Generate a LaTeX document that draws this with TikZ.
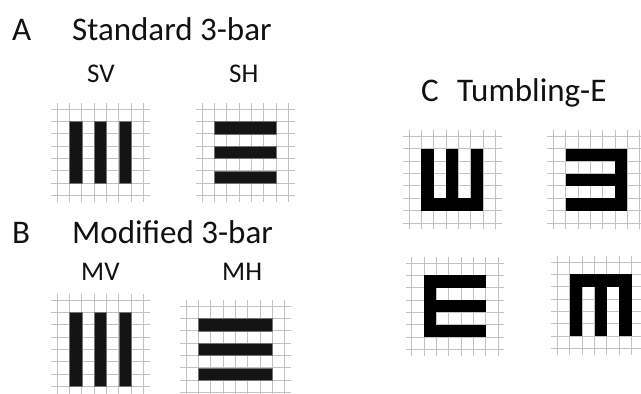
\documentclass[tikz,border=0pt]{standalone}
\usepackage{fontspec}
\setmainfont{Carlito}
\definecolor{txt}{HTML}{111111}
\definecolor{gline}{HTML}{C2C2C2}
\tikzset{
  gridline/.style={draw=gline, line width=0.9pt},
  barfill/.style={fill=black!92, draw=black!55, line width=0.3pt},
  efill/.style={fill=black},
  head/.style={anchor=base west, text=txt, inner sep=0pt, font=\fontsize{33}{39}\selectfont},
  sub/.style={anchor=base west, text=txt, inner sep=0pt, font=\fontsize{27}{32}\selectfont},
  pics/eyegrid/.style 2 args={code={
    \foreach \i in {0,...,#1} \draw[gridline] (\i,-0.5) -- (\i,#2+0.5);
    \foreach \j in {0,...,#2} \draw[gridline] (-0.5,\j) -- (#1+0.5,\j);
  }},
}
\begin{document}
\begin{tikzpicture}[x=1pt,y=-1pt]
\useasboundingbox (0,0) rectangle (641,394);
\fill[white] (0,0) rectangle (641,394);

% Titles
\node[head] (lA) at (12,40) {A};
\node[head] (tA) at (72,40) {Standard 3-bar};
\node[sub] (sv) at (87,82) {SV};
\node[sub] (sh) at (229,82) {SH};
\node[head] (lB) at (12,243) {B};
\node[head] (tB) at (72,243) {Modified 3-bar};
\node[sub] (mv) at (81,280) {MV};
\node[sub] (mh) at (222,280) {MH};
\node[head] (lC) at (421,101) {C};
\node[head] (tC) at (457,101) {Tumbling-E};

% SV
\begin{scope}[shift={(57,109)}, x=12.35pt, y=-12.35pt]
  \pic {eyegrid={7}{7}};
  \foreach \k in {1,3,5} \path[barfill] (\k,1) rectangle (\k+1,6);
\end{scope}
% SH
\begin{scope}[shift={(202,109)}, x=12.35pt, y=-12.35pt]
  \pic {eyegrid={7}{7}};
  \foreach \k in {1,3,5} \path[barfill] (1,\k) rectangle (6,\k+1);
\end{scope}
% MV
\begin{scope}[shift={(57,300)}, x=12.35pt, y=-12.35pt]
  \pic {eyegrid={7}{8}};
  \foreach \k in {1,3,5} \path[barfill] (\k,1) rectangle (\k+1,7);
\end{scope}
% MH
\begin{scope}[shift={(186,306)}, x=12.35pt, y=-12.35pt]
  \pic {eyegrid={8}{7}};
  \foreach \k in {1,3,5} \path[barfill] (1,\k) rectangle (7,\k+1);
\end{scope}

% Tumbling E: open up
\begin{scope}[shift={(409,136.5)}, x=12.35pt, y=-12.35pt]
  \pic {eyegrid={7}{7}};
  \fill[efill] (1,5) rectangle (6,6);
  \foreach \k in {1,3,5} \fill[efill] (\k,1) rectangle (\k+1,5.02);
\end{scope}
% open left
\begin{scope}[shift={(553.3,136.5)}, x=12.35pt, y=-12.35pt]
  \pic {eyegrid={7}{7}};
  \fill[efill] (5,1) rectangle (6,6);
  \foreach \k in {1,3,5} \fill[efill] (1,\k) rectangle (5.02,\k+1);
\end{scope}
% open right (E)
\begin{scope}[shift={(411.7,263)}, x=12.35pt, y=-12.35pt]
  \pic {eyegrid={7}{7}};
  \fill[efill] (1,1) rectangle (2,6);
  \foreach \k in {1,3,5} \fill[efill] (1.98,\k) rectangle (6,\k+1);
\end{scope}
% open down
\begin{scope}[shift={(557.5,262)}, x=12.35pt, y=-12.35pt]
  \pic {eyegrid={7}{7}};
  \fill[efill] (1,1) rectangle (6,2);
  \foreach \k in {1,3,5} \fill[efill] (\k,1.98) rectangle (\k+1,6);
\end{scope}
\end{tikzpicture}
\end{document}
